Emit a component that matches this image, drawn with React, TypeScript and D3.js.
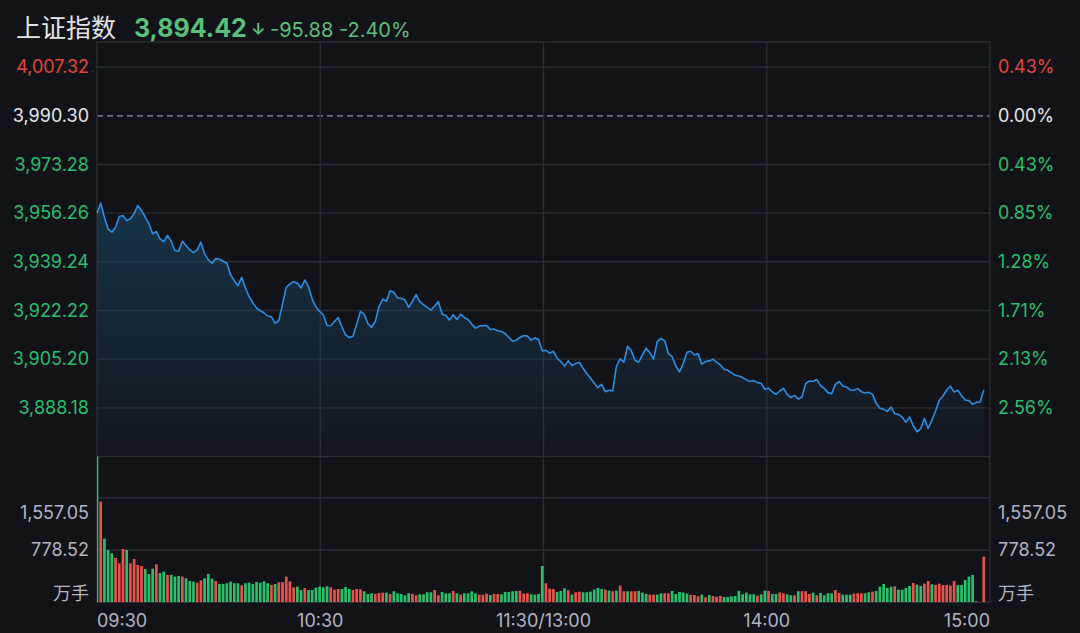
import React from 'react';
import * as d3 from 'd3';

// 分时数据：09:30 起每分钟一个点
const prices: number[] = [
  3956.26, 3959.77, 3954.86, 3950.77, 3949.60, 3951.35, 3955.09, 3955.44, 3953.69, 3954.27,
  3956.03, 3958.95, 3957.20, 3954.86, 3952.52, 3949.01, 3949.83, 3947.26, 3946.32, 3948.43,
  3946.44, 3943.17, 3942.93, 3946.44, 3944.92, 3943.40, 3942.47, 3943.40, 3946.09, 3942.00,
  3939.90, 3938.73, 3940.36, 3940.13, 3939.43, 3938.73, 3934.75, 3932.65, 3930.89, 3933.82,
  3930.08, 3927.04, 3924.93, 3923.06, 3922.13, 3921.43, 3920.26, 3920.02, 3917.69, 3918.62,
  3924.46, 3930.31, 3931.48, 3932.30, 3931.71, 3930.08, 3932.88, 3930.54, 3926.22, 3923.53,
  3921.89, 3920.73, 3916.98, 3916.87, 3918.39, 3919.79, 3916.52, 3913.71, 3912.78, 3913.24,
  3917.45, 3921.89, 3920.96, 3917.69, 3916.28, 3918.39, 3923.53, 3926.22, 3925.40, 3929.14,
  3928.56, 3926.57, 3926.45, 3925.87, 3923.30, 3925.40, 3927.74, 3925.28, 3924.23, 3923.30,
  3922.36, 3923.76, 3925.28, 3920.96, 3920.49, 3918.85, 3920.72, 3919.09, 3920.96, 3919.79,
  3919.09, 3917.45, 3916.05, 3916.75, 3916.87, 3916.98, 3915.58, 3915.70, 3915.11, 3914.88,
  3914.18, 3912.78, 3911.49, 3911.84, 3912.78, 3913.48, 3913.24, 3911.84, 3912.66, 3912.07,
  3908.10, 3908.30, 3907.28, 3907.98, 3905.53, 3904.36, 3902.84, 3904.59, 3902.96, 3903.66,
  3904.13, 3902.02, 3900.15, 3898.52, 3896.88, 3895.24, 3896.41, 3893.84, 3894.31, 3894.07,
  3902.72, 3905.30, 3904.13, 3909.74, 3908.10, 3904.83, 3904.13, 3906.70, 3909.04, 3907.40,
  3905.18, 3911.37, 3912.43, 3911.61, 3907.17, 3906.11, 3902.72, 3900.74, 3903.66, 3907.63,
  3907.98, 3906.70, 3907.05, 3903.43, 3904.36, 3904.59, 3905.18, 3904.13, 3903.19, 3901.67,
  3901.32, 3900.39, 3899.57, 3899.33, 3898.75, 3898.05, 3897.35, 3897.70, 3897.00, 3896.76,
  3894.66, 3895.01, 3893.72, 3892.90, 3894.07, 3895.01, 3892.90, 3891.74, 3892.55, 3891.27,
  3891.97, 3896.65, 3897.58, 3897.46, 3898.05, 3895.94, 3895.01, 3893.49, 3893.14, 3896.41,
  3897.35, 3895.83, 3895.48, 3894.42, 3894.31, 3894.89, 3893.84, 3893.37, 3893.61, 3892.90,
  3889.75, 3888.00, 3887.65, 3886.94, 3888.46, 3886.13, 3885.89, 3884.96, 3883.09, 3884.96,
  3881.92, 3879.81, 3880.87, 3884.49, 3880.98, 3883.79, 3887.06, 3890.80, 3892.32, 3894.42,
  3895.71, 3893.72, 3894.31, 3892.44, 3890.92, 3890.69, 3889.40, 3890.10, 3890.22, 3894.42,
];

// 成交量（万手）
const volumes: number[] = [
  2170, 1498, 947, 779, 729, 660, 580, 793, 779, 580,
  645, 555, 541, 496, 422, 501, 565, 436, 456, 407,
  407, 382, 392, 382, 357, 317, 307, 293, 327, 357,
  422, 352, 317, 273, 273, 283, 307, 283, 283, 253,
  283, 293, 273, 302, 293, 312, 283, 258, 273, 298,
  298, 382, 312, 223, 233, 183, 213, 183, 183, 218,
  233, 223, 238, 223, 188, 198, 198, 228, 198, 183,
  198, 193, 164, 124, 134, 124, 139, 144, 144, 124,
  164, 134, 124, 104, 134, 124, 104, 119, 119, 149,
  149, 183, 104, 154, 134, 134, 169, 134, 114, 134,
  134, 164, 134, 114, 114, 129, 109, 124, 124, 119,
  154, 154, 164, 169, 174, 129, 134, 119, 114, 124,
  541, 283, 203, 198, 154, 169, 208, 179, 114, 149,
  159, 149, 149, 159, 188, 213, 198, 188, 174, 164,
  174, 248, 164, 164, 164, 164, 169, 144, 124, 114,
  114, 114, 134, 134, 134, 169, 124, 154, 144, 129,
  109, 109, 89, 114, 74, 109, 94, 84, 94, 79,
  79, 89, 94, 169, 119, 144, 119, 119, 99, 119,
  174, 169, 124, 124, 144, 134, 119, 104, 104, 164,
  164, 164, 124, 144, 104, 139, 104, 134, 134, 183,
  139, 114, 114, 114, 129, 134, 134, 134, 149, 159,
  169, 233, 273, 213, 233, 238, 188, 188, 213, 243,
  288, 263, 243, 278, 317, 268, 258, 278, 258, 258,
  248, 317, 258, 258, 332, 382, 407, 15, 0, 679,
];

// 1 = 红柱, 0 = 绿柱
const volumeUp: number[] = [
  0, 1, 0, 0, 0, 1, 1, 1, 0, 1,
  1, 1, 1, 0, 0, 0, 1, 0, 0, 1,
  0, 0, 0, 1, 0, 0, 0, 1, 1, 0,
  0, 0, 1, 0, 0, 0, 0, 0, 0, 1,
  0, 0, 0, 0, 0, 0, 0, 1, 0, 1,
  1, 1, 1, 1, 0, 0, 1, 0, 0, 0,
  0, 0, 0, 1, 1, 1, 0, 0, 0, 1,
  1, 1, 0, 0, 0, 1, 1, 1, 0, 1,
  0, 0, 0, 0, 0, 1, 1, 0, 0, 0,
  0, 1, 1, 0, 0, 0, 1, 0, 1, 0,
  0, 0, 0, 1, 1, 1, 0, 1, 1, 0,
  0, 0, 0, 0, 1, 1, 1, 0, 0, 0,
  0, 1, 1, 1, 0, 0, 0, 1, 0, 1,
  1, 0, 0, 0, 0, 0, 0, 1, 0, 1,
  0, 1, 1, 0, 1, 1, 0, 0, 0, 1,
  1, 0, 0, 1, 1, 0, 0, 0, 0, 0,
  1, 1, 1, 0, 1, 0, 1, 1, 1, 0,
  0, 0, 0, 0, 0, 0, 0, 0, 1, 0,
  0, 1, 0, 0, 1, 1, 0, 0, 1, 0,
  1, 1, 1, 0, 1, 0, 0, 0, 0, 1,
  1, 0, 0, 0, 1, 1, 1, 0, 0, 1,
  0, 0, 0, 0, 0, 1, 0, 0, 0, 0,
  1, 0, 0, 1, 1, 0, 1, 1, 1, 1,
  1, 1, 0, 0, 0, 0, 0, 1, 1, 1,
];

const prevClose = 3990.30;
const priceTicks = [4007.32, 3990.30, 3973.28, 3956.26, 3939.24, 3922.22, 3905.20, 3888.18];
const pctTicks = ['0.43%', '0.00%', '0.43%', '0.85%', '1.28%', '1.71%', '2.13%', '2.56%'];
const volumeTicks = [1557.05, 778.52];
const timeLabels = ['09:30', '10:30', '11:30/13:00', '14:00', '15:00'];
const timeIdx = [0, 60, 120, 180, 240];

const RED = '#e6453e';
const GREEN = '#27bf6b';
const WHITE = '#e6e6e8';
const GRAY = '#b3b4c0';
const GRID = '#2a2d35';
const FONT = "Inter, 'Noto Sans CJK SC', sans-serif";
const FS = 18;

const fmt = d3.format(',.2f');

export default function App() {
  const left = 97;
  const right = 990;
  const top = 42;
  const priceBottom = 456.5;
  const volTop = 497.7;
  const volBottom = 602.3;

  const x = d3.scaleLinear().domain([0, 240]).range([left, 987.5]);
  const y = d3.scaleLinear().domain([3871.16, 4016.1]).range([priceBottom, top]);
  const yv = d3.scaleLinear().domain([0, 1557.05]).range([volBottom, volTop]);

  const line = d3.line<number>().x((_, i) => x(i)).y(d => y(d));
  const area = d3.area<number>().x((_, i) => x(i)).y0(priceBottom).y1(d => y(d));

  const gridPrices = [...priceTicks, 3871.16];
  const barW = 2.7;

  const tickColor = (v: number) => (v > prevClose ? RED : v < prevClose ? GREEN : WHITE);

  return (
    <div style={{ position: 'fixed', inset: 0, background: '#121318' }}>
      <svg width={1080} height={633} style={{ display: 'block', fontFamily: FONT }}>
        <defs>
          <linearGradient id="areaFill" gradientUnits="userSpaceOnUse" x1="0" y1="190" x2="0" y2={priceBottom}>
            <stop offset="0" stopColor="#1b4c6d" stopOpacity={0.6} />
            <stop offset="1" stopColor="#1b4c6d" stopOpacity={0.06} />
          </linearGradient>
          <clipPath id="plotClip">
            <rect x={left} y={top} width={right - left} height={volBottom - top} />
          </clipPath>
        </defs>

        {/* header */}
        <text x={16} y={37} fontSize={25} fill={WHITE}>上证指数</text>
        <text x={134} y={37} fontSize={25} fill="#5cbf79" fontWeight={700}>3,894.42</text>
        <text x={251} y={35} fontSize={16} fill="#5cbf79" fontWeight={700}>↓</text>
        <text x={270} y={37} fontSize={20} fill="#5cbf79">-95.88 -2.40%</text>

        {/* grid */}
        {gridPrices.map((p, i) => (
          <line key={'g' + i} x1={left} x2={right} y1={y(p)} y2={y(p)}
            stroke={p === prevClose ? '#8c90a0' : GRID}
            strokeWidth={p === prevClose ? 1.2 : 1.4}
            strokeDasharray={p === prevClose ? '6 4' : undefined} />
        ))}
        {volumeTicks.map((v, i) => (
          <line key={'vg' + i} x1={left} x2={right} y1={yv(v)} y2={yv(v)} stroke={GRID} strokeWidth={1.4} />
        ))}
        {[1, 2, 3].map(k => {
          const gx = left + ((right - left) * k) / 4;
          return <line key={'vx' + k} x1={gx} x2={gx} y1={top} y2={volBottom} stroke={GRID} strokeWidth={1.4} />;
        })}
        <rect x={left} y={top} width={right - left} height={volBottom - top} fill="none" stroke={GRID} strokeWidth={1.4} />

        {/* price area & line */}
        <path d={area(prices) || ''} fill="url(#areaFill)" />
        <path d={line(prices) || ''} fill="none" stroke="#2b8de3" strokeWidth={1.6} strokeLinejoin="round" />

        {/* volume */}
        <g clipPath="url(#plotClip)">
          {volumes.map((v, i) => (
            <rect key={'v' + i} x={x(i) - barW / 2} y={yv(v)} width={barW}
              height={Math.max(0, volBottom - yv(v))}
              fill={volumeUp[i] ? '#e9524a' : '#2bbf6d'} />
          ))}
        </g>

        {/* left price labels */}
        {priceTicks.map((p, i) => (
          <text key={'pl' + i} x={89} y={y(p)} dy="0.35em" textAnchor="end" fontSize={FS} fill={tickColor(p)}>
            {fmt(p)}
          </text>
        ))}
        {/* right percent labels */}
        {priceTicks.map((p, i) => (
          <text key={'pr' + i} x={998} y={y(p)} dy="0.35em" fontSize={FS} fill={tickColor(p)}>
            {pctTicks[i]}
          </text>
        ))}

        {/* volume labels */}
        {volumeTicks.map((v, i) => {
          const ty = i === 0 ? yv(v) + 15 : yv(v);
          return (
            <g key={'vl' + i}>
              <text x={89} y={ty} dy="0.35em" textAnchor="end" fontSize={FS} fill={GRAY}>{fmt(v)}</text>
              <text x={998} y={ty} dy="0.35em" fontSize={FS} fill={GRAY}>{fmt(v)}</text>
            </g>
          );
        })}
        <text x={89} y={594} dy="0.35em" textAnchor="end" fontSize={FS} fill={GRAY}>万手</text>
        <text x={998} y={594} dy="0.35em" fontSize={FS} fill={GRAY}>万手</text>

        {/* time labels */}
        {timeLabels.map((t, i) => {
          const anchor = i === 0 ? 'start' : i === timeLabels.length - 1 ? 'end' : 'middle';
          const tx = i === 0 ? left : i === timeLabels.length - 1 ? right : left + ((right - left) * timeIdx[i]) / 240;
          return (
            <text key={'t' + i} x={tx} y={621} dy="0.35em" textAnchor={anchor} fontSize={FS} fill={GRAY}>
              {t}
            </text>
          );
        })}
      </svg>
    </div>
  );
}
